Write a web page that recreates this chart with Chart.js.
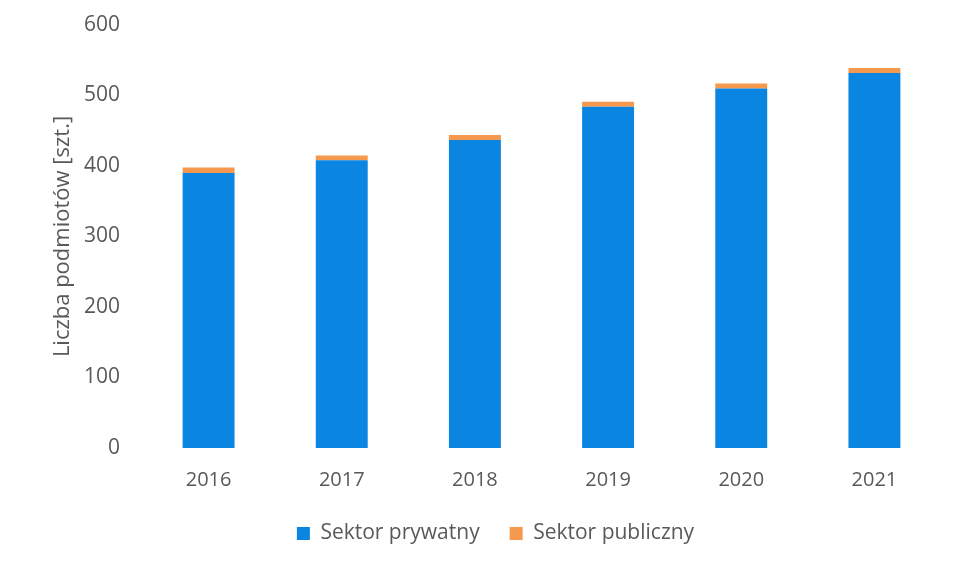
<!DOCTYPE html>
<html>
<head>
<meta charset="utf-8">
<script src="https://cdn.jsdelivr.net/npm/chart.js@4.4.0/dist/chart.umd.min.js"></script>
<style>
  html, body { margin: 0; padding: 0; background: #ffffff; }
  #wrap { width: 957px; height: 562px; }
</style>
</head>
<body>
<div id="wrap"><canvas id="myChart"></canvas></div>
<script>
const years = ['2016', '2017', '2018', '2019', '2020', '2021']
const privateSector = [390, 408, 437, 484, 510, 532]
const publicSector = [8, 7, 7, 7, 7, 7]
const yTicks = [0, 100, 200, 300, 400, 500, 600]

const textColor = '#595959'
const fontFamily = "'Open Sans', sans-serif"

const chart = document.getElementById('myChart')

new Chart(chart, {
    type: 'bar',
    data: {
        labels: years,
        datasets: [{
            label: 'Sektor prywatny',
            data: privateSector,
            backgroundColor: '#0a86e2',
            categoryPercentage: 1,
            barPercentage: 0.39
        }, {
            label: 'Sektor publiczny',
            data: publicSector,
            backgroundColor: '#f5994f',
            categoryPercentage: 1,
            barPercentage: 0.39
        }]
    },
    options: {
        responsive: true,
        maintainAspectRatio: false,
        animation: false,
        layout: {
            padding: { left: 50, right: 16, top: 25, bottom: 8 }
        },
        plugins: {
            legend: {
                position: 'bottom',
                labels: {
                    color: textColor,
                    font: { family: fontFamily, size: 21 },
                    boxWidth: 13,
                    boxHeight: 13,
                    padding: 30
                }
            },
            tooltip: { enabled: false }
        },
        scales: {
            x: {
                stacked: true,
                afterFit: axis => {
                    // labels hang below the axis box, leaving room for the legend
                    axis.height = axis.height - 19
                },
                grid: { display: false, drawTicks: false },
                border: { display: false },
                ticks: {
                    color: textColor,
                    font: { family: fontFamily, size: 20 },
                    padding: 20
                }
            },
            y: {
                stacked: true,
                min: yTicks[0],
                max: yTicks[yTicks.length - 1],
                afterBuildTicks: axis => {
                    axis.ticks = yTicks.map(v => ({ value: v }))
                },
                afterFit: axis => {
                    axis.width = 92
                    axis.paddingTop = 0
                    axis.paddingBottom = 0
                },
                grid: { display: false, drawTicks: false },
                border: { display: false },
                ticks: {
                    color: textColor,
                    font: { family: fontFamily, size: 21 },
                    padding: 22
                },
                title: {
                    display: true,
                    text: 'Liczba podmiotów [szt.]',
                    color: textColor,
                    font: { family: fontFamily, size: 22 },
                    padding: 0
                }
            }
        }
    }
})
</script>
</body>
</html>
